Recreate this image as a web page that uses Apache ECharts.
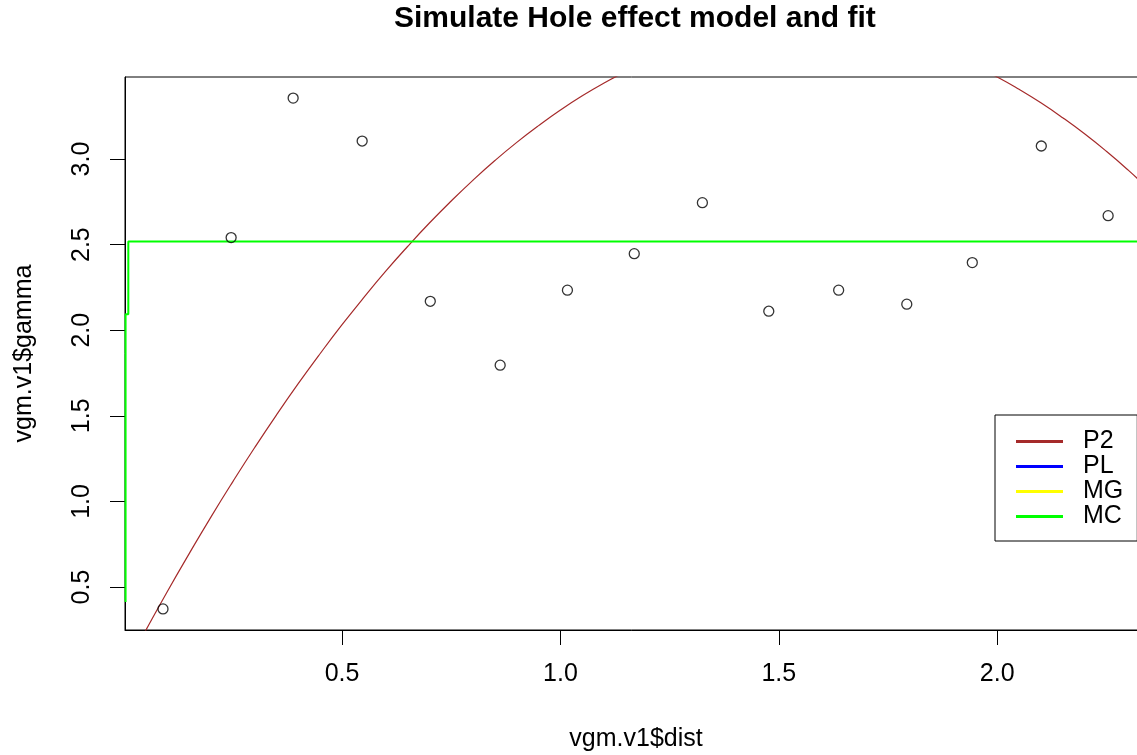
<!DOCTYPE html>
<html>
<head>
<meta charset="utf-8">
<script src="https://cdn.jsdelivr.net/npm/echarts@6/dist/echarts.min.js"></script>
<style>
html,body{margin:0;padding:0;background:#fff;}
#chart{width:1137px;height:755px;}
</style>
</head>
<body>
<div id="chart"></div>
<script>
// Empirical variogram points (vgm.v1)
var distX  = [0.090, 0.246, 0.388, 0.546, 0.702, 0.862, 1.016, 1.169, 1.325, 1.477, 1.637, 1.793, 1.943, 2.101, 2.254];
var gammaY = [0.372, 2.541, 3.356, 3.105, 2.169, 1.796, 2.234, 2.447, 2.745, 2.111, 2.234, 2.152, 2.395, 3.076, 2.669];

// P2 fitted curve
var p2X = [0.04, 0.05, 0.10, 0.15, 0.20, 0.25, 0.30, 0.35, 0.40, 0.45, 0.50, 0.55, 0.60, 0.65, 0.70, 0.75, 0.80, 0.85, 0.90, 0.95, 1.00, 1.05, 1.10, 1.15, 1.20, 1.30, 1.40, 1.50, 1.60, 1.70, 1.80, 1.90, 1.95, 2.00, 2.05, 2.10, 2.15, 2.20, 2.25, 2.30, 2.35];
var p2Y = [0.197, 0.244, 0.474, 0.695, 0.910, 1.116, 1.315, 1.506, 1.689, 1.864, 2.032, 2.192, 2.345, 2.489, 2.626, 2.755, 2.877, 2.991, 3.097, 3.195, 3.286, 3.369, 3.444, 3.511, 3.571, 3.668, 3.733, 3.768, 3.772, 3.745, 3.687, 3.598, 3.542, 3.479, 3.407, 3.328, 3.241, 3.147, 3.045, 2.935, 2.817];

// MC fitted curve
var mcX = [0.0043, 0.0043, 0.0106, 0.0106, 2.40];
var mcY = [0.412, 2.093, 2.093, 2.518, 2.518];

// PL and MG curves are not visible in the plotting region
var plX = [], plY = [];
var mgX = [], mgY = [];

var xTicks = [0.5, 1.0, 1.5, 2.0];
var yTicks = [0.5, 1.0, 1.5, 2.0, 2.5, 3.0];

function pairs(xs, ys) { return xs.map(function (x, i) { return [x, ys[i]]; }); }

var FONT = '"Liberation Sans", Arial, sans-serif';
var chart = echarts.init(document.getElementById('chart'), null, {renderer: 'canvas'});

chart.setOption({
  backgroundColor: '#fff',
  animation: false,
  textStyle: {fontFamily: FONT},
  title: {
    text: 'Simulate Hole effect model and fit',
    left: 394, top: 4, padding: 0,
    textStyle: {fontFamily: FONT, fontSize: 30, fontWeight: 'bold', color: '#000'}
  },
  grid: {
    left: 125, top: 77, right: -10, bottom: 125,
    outerBoundsMode: 'none',
    show: true, borderColor: '#000', borderWidth: 1, backgroundColor: 'transparent',
    containLabel: false
  },
  xAxis: {
    type: 'value', min: 0.003, max: 2.343,
    name: 'vgm.v1$dist', nameLocation: 'middle', nameGap: 97,
    nameTextStyle: {fontFamily: FONT, fontSize: 25, color: '#000'},
    axisLine: {show: true, onZero: false, lineStyle: {color: '#000', width: 1}},
    axisTick: {show: true, length: 15, lineStyle: {color: '#000', width: 1}, customValues: xTicks},
    axisLabel: {show: true, margin: 32, fontFamily: FONT, fontSize: 25, color: '#000',
      customValues: xTicks, formatter: function (v) { return v.toFixed(1); }},
    splitLine: {show: false}
  },
  yAxis: {
    type: 'value', min: 0.249, max: 3.479,
    name: 'vgm.v1$gamma', nameLocation: 'middle', nameGap: 88,
    nameTextStyle: {fontFamily: FONT, fontSize: 25, color: '#000'},
    axisLine: {show: true, onZero: false, lineStyle: {color: '#000', width: 1}},
    axisTick: {show: true, length: 15, lineStyle: {color: '#000', width: 1}, customValues: yTicks},
    axisLabel: {show: true, margin: 30, rotate: 90, fontFamily: FONT, fontSize: 25, color: '#000',
      customValues: yTicks, formatter: function (v) { return v.toFixed(1); }},
    splitLine: {show: false}
  },
  legend: {
    orient: 'vertical', left: 995, top: 415,
    padding: [14, 14, 12, 21],
    borderColor: '#000', borderWidth: 1, borderRadius: 0,
    backgroundColor: '#fff',
    itemGap: 0, itemWidth: 47, itemHeight: 3, icon: 'rect',
    textStyle: {fontFamily: FONT, fontSize: 25, lineHeight: 25, color: '#000', padding: [0, 0, 0, 15]},
    data: ['P2', 'PL', 'MG', 'MC']
  },
  series: [
    {
      name: 'points', type: 'scatter', data: pairs(distX, gammaY),
      symbol: 'circle', symbolSize: 10,
      itemStyle: {color: 'rgba(0,0,0,0)', borderColor: '#000', borderWidth: 1.3},
      z: 3
    },
    {
      name: 'P2', type: 'line', data: pairs(p2X, p2Y), showSymbol: false, symbol: 'none',
      smooth: true, clip: true,
      lineStyle: {color: '#A52A2A', width: 1.2}, itemStyle: {color: '#A52A2A'}, z: 2
    },
    {
      name: 'PL', type: 'line', data: pairs(plX, plY), showSymbol: false, symbol: 'none',
      lineStyle: {color: '#0000FF', width: 1.5}, itemStyle: {color: '#0000FF'}
    },
    {
      name: 'MG', type: 'line', data: pairs(mgX, mgY), showSymbol: false, symbol: 'none',
      lineStyle: {color: '#FFFF00', width: 1.5}, itemStyle: {color: '#FFFF00'}
    },
    {
      name: 'MC', type: 'line', data: pairs(mcX, mcY), showSymbol: false, symbol: 'none',
      clip: true,
      lineStyle: {color: '#00FF00', width: 2}, itemStyle: {color: '#00FF00'}, z: 2
    }
  ]
});
</script>
</body>
</html>
